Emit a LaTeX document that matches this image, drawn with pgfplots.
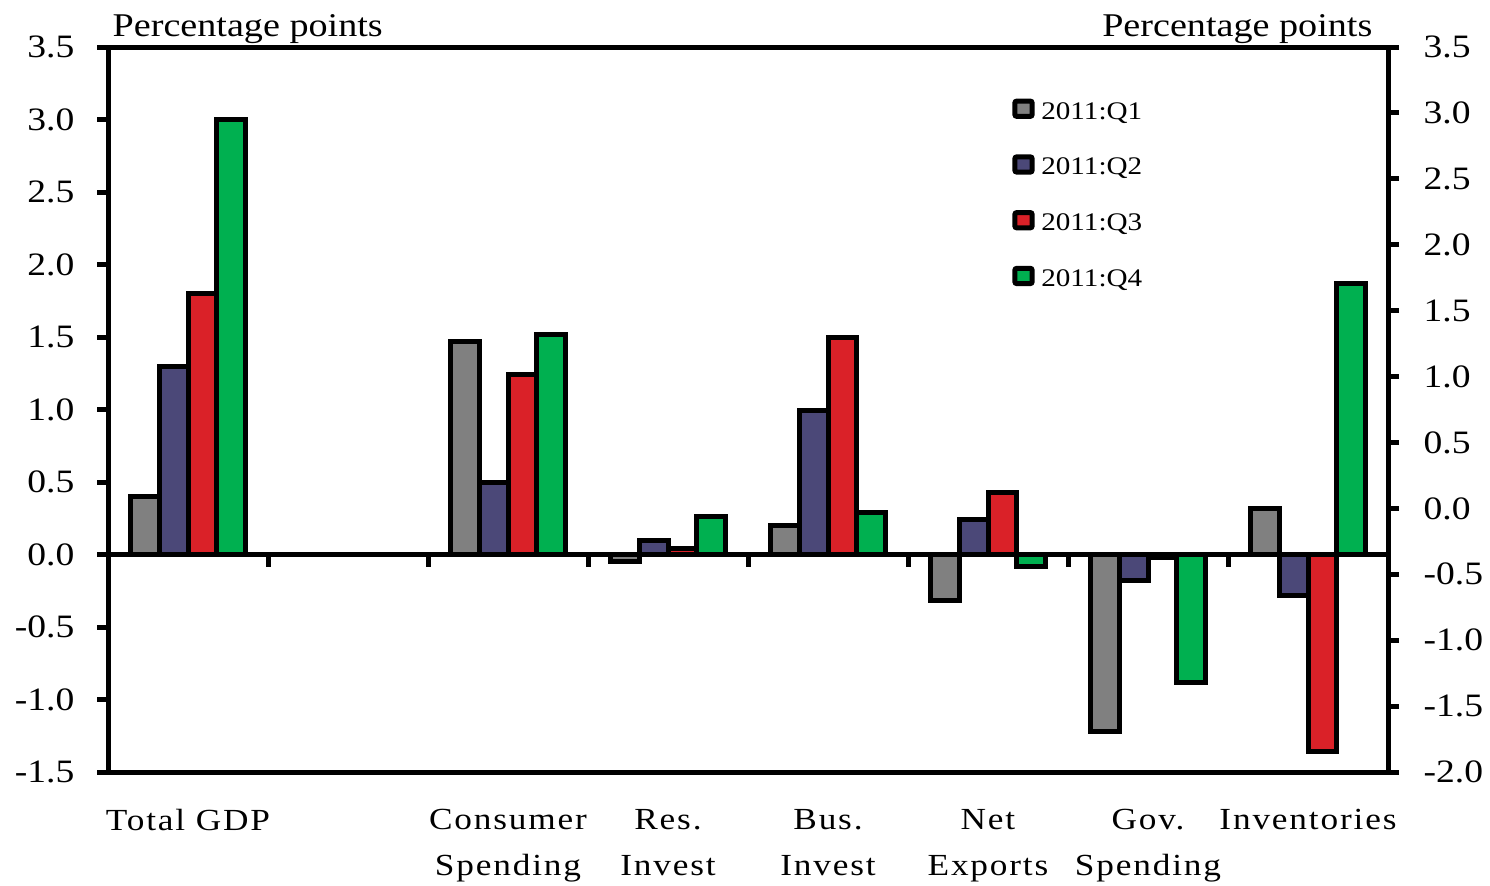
\documentclass[border=0pt]{standalone}
\usepackage{fontspec}
\setmainfont[FakeStretch=1.15]{Liberation Serif}
\newfontfamily\labfont[FakeStretch=1.15,LetterSpace=6]{Liberation Serif}
\usepackage{pgfplots}
\usepackage{pgfplotstable}
\pgfplotsset{compat=1.18}

\definecolor{qone}{RGB}{128,128,128}
\definecolor{qtwo}{RGB}{75,72,120}
\definecolor{qthree}{RGB}{218,33,40}
\definecolor{qfour}{RGB}{0,176,80}

% contributions to growth, percentage points (category 1 left empty)
\pgfplotstableread{
x q1 q2 q3 q4
0 0.40 1.30 1.80 3.00
2 1.47 0.50 1.24 1.52
3 -0.05 0.10 0.04 0.26
4 0.20 0.99 1.50 0.29
5 -0.32 0.24 0.43 -0.08
6 -1.22 -0.18 -0.02 -0.88
7 0.32 -0.28 -1.36 1.87
}\contrib

\begin{document}
\fontsize{9.8pt}{11pt}\selectfont
\begin{tikzpicture}
\pgfplotsset{
  chartbase/.style={
    scale only axis, width=384pt, height=217.5pt,
    xmin=-0.5, xmax=7.5,
    axis line style={line width=1.5pt},
    every tick/.style={black, line width=1.5pt},
    tick align=outside, major tick length=3.3pt,
    /pgf/number format/assume math mode=true,
    yticklabel style={/pgf/number format/fixed, /pgf/number format/fixed zerofill,
      /pgf/number format/precision=1},
  }
}
\begin{axis}[
  chartbase, name=main, clip=false,
  ymin=-1.5, ymax=3.5,
  ytick={-1.5,-1,-0.5,0,0.5,1,1.5,2,2.5,3,3.5},
  ytick pos=left,
  yticklabel style={inner sep=0pt, xshift=-6.6pt},
  xtick={0,2,3,4,5,6,7},
  xticklabels={Total GDP, {Consumer\\Spending}, {Res.\\Invest}, {Bus.\\Invest},
    {Net\\Exports}, {Gov.\\Spending}, Inventories},
  xtick pos=bottom,
  x tick style={draw=none},
  xticklabel style={align=center, inner sep=0pt, yshift=-7.6pt,
    font=\labfont\fontsize{9.2pt}{13.8pt}\selectfont},
  ybar=0pt, bar width=0.18,
  legend style={at={(rel axis cs:0.706,0.934)}, anchor=north west,
    draw=none, fill=none, inner sep=0pt, row sep=6.2pt,
    font=\fontsize{7.6pt}{9pt}\selectfont},
  legend cell align=left,
  legend image code/.code={
    \draw[#1, line width=1.5pt, rounded corners=0.6pt] (0pt,-1.0pt) rectangle (5.2pt,3.6pt);
  },
]
\addplot[fill=qone, draw=black, line width=1.5pt, bar shift=-0.27] table[x=x, y=q1] {\contrib};
\addplot[fill=qtwo, draw=black, line width=1.5pt, bar shift=-0.09] table[x=x, y=q2] {\contrib};
\addplot[fill=qthree, draw=black, line width=1.5pt, bar shift=0.09] table[x=x, y=q3] {\contrib};
\addplot[fill=qfour, draw=black, line width=1.5pt, bar shift=0.27] table[x=x, y=q4] {\contrib};
\legend{2011:Q1, 2011:Q2, 2011:Q3, 2011:Q4}

% zero line with category separators
\draw[line width=1.5pt] (axis cs:-0.5,0) -- (axis cs:7.5,0);
\pgfplotsinvokeforeach{0.5,1.5,2.5,3.5,4.5,5.5,6.5}{
  \draw[line width=1.5pt] (axis cs:#1,0) -- ++(0pt,-3.8pt);
}
\end{axis}

% right-hand scale
\begin{axis}[
  chartbase,
  ymin=-2, ymax=3.5,
  ytick={-2,-1.5,-1,-0.5,0,0.5,1,1.5,2,2.5,3,3.5},
  axis x line=none,
  axis y line*=right,
  yticklabel style={inner sep=0pt, xshift=7.2pt},
]
\addplot[draw=none] coordinates {(0,0)};
\end{axis}

\node[anchor=base west, inner sep=0pt, font=\fontsize{9.95pt}{11pt}\selectfont]
  at ([xshift=1.2pt, yshift=3.3pt]main.north west) {Percentage points};
\node[anchor=base east, inner sep=0pt, font=\fontsize{9.95pt}{11pt}\selectfont]
  at ([xshift=-4.5pt, yshift=3.3pt]main.north east) {Percentage points};

\pgfresetboundingbox
\path (-32.4pt,-33.9pt) rectangle (414.6pt,231.6pt);
\end{tikzpicture}
\end{document}
